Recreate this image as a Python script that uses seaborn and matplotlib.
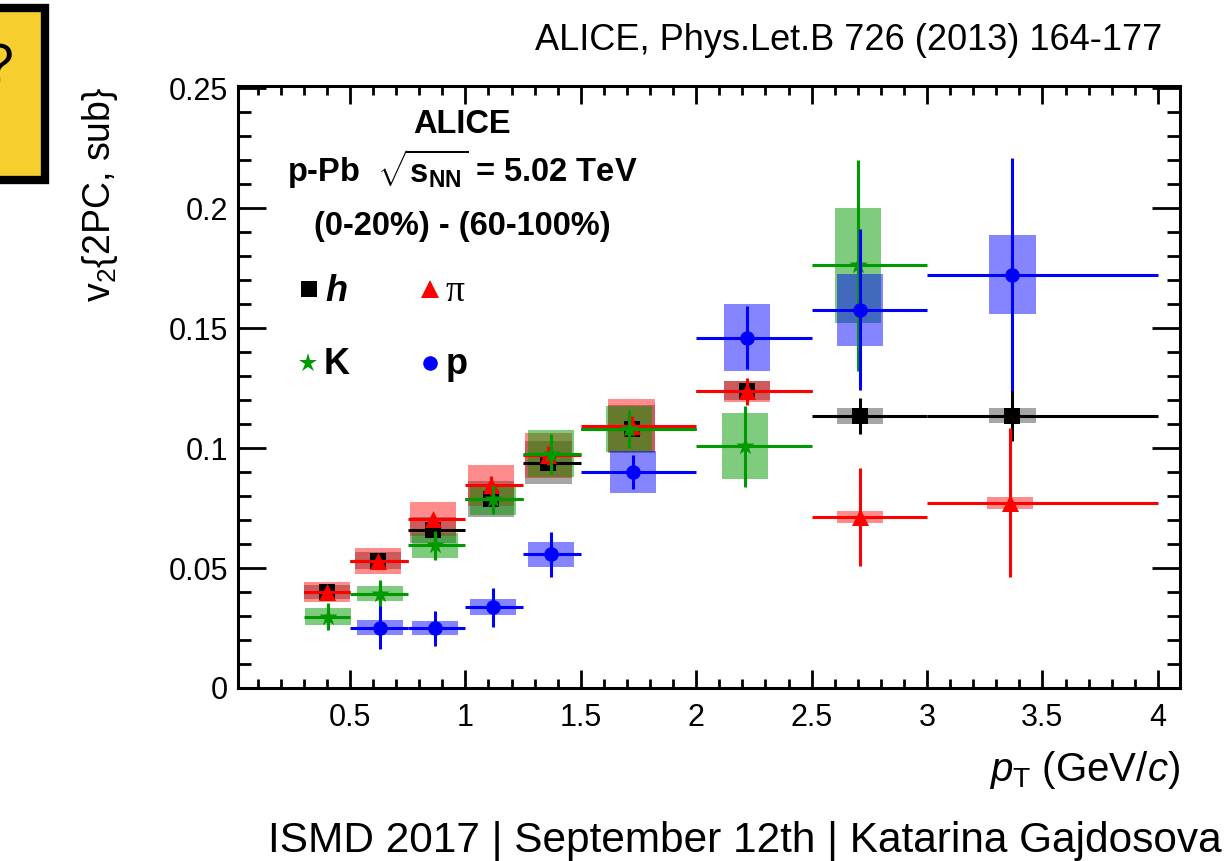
import numpy as np
import pandas as pd
import matplotlib
matplotlib.use("Agg")
import matplotlib.pyplot as plt
from matplotlib.patches import Rectangle
import seaborn as sns

# ---------------- data ----------------
bin_lo = [0.3, 0.5, 0.75, 1.0, 1.25, 1.5, 2.0, 2.5, 3.0]
bin_hi = [0.5, 0.75, 1.0, 1.25, 1.5, 2.0, 2.5, 3.0, 4.0]

# unidentified hadrons h
h_bins = [0, 1, 2, 3, 4, 5, 6, 7, 8]
h_x    = [0.40, 0.62, 0.86, 1.11, 1.36, 1.72, 2.22, 2.71, 3.37]
h_v2   = [0.040, 0.053, 0.066, 0.079, 0.094, 0.108, 0.124, 0.1135, 0.1136]
h_stat = [0.0008, 0.0008, 0.001, 0.001, 0.0012, 0.0015, 0.002, 0.0075, 0.0105]
h_sys  = [0.003, 0.0035, 0.0055, 0.0075, 0.009, 0.010, 0.004, 0.0033, 0.0033]

# pions
pi_bins = [0, 1, 2, 3, 4, 5, 6, 7, 8]
pi_x    = [0.40, 0.62, 0.86, 1.11, 1.36, 1.72, 2.22, 2.71, 3.36]
pi_v2   = [0.040, 0.053, 0.0705, 0.0845, 0.097, 0.1094, 0.1237, 0.0713, 0.0772]
pi_stat = [0.001, 0.0012, 0.0015, 0.004, 0.004, 0.004, 0.0055, 0.0203, 0.031]
pi_sys  = [0.0042, 0.0054, 0.0072, 0.0085, 0.0094, 0.011, 0.0044, 0.0025, 0.0025]

# kaons
K_bins = [0, 1, 2, 3, 4, 5, 6, 7]
K_x    = [0.405, 0.63, 0.87, 1.12, 1.37, 1.71, 2.21, 2.70]
K_v2   = [0.0297, 0.0394, 0.0595, 0.0786, 0.0976, 0.108, 0.1008, 0.1763]
K_stat = [0.0057, 0.0058, 0.006, 0.006, 0.0085, 0.0078, 0.0168, 0.044]
K_sys  = [0.0036, 0.0033, 0.0052, 0.0064, 0.0098, 0.0094, 0.0137, 0.024]

# protons
p_bins = [1, 2, 3, 4, 5, 6, 7, 8]
p_x    = [0.63, 0.87, 1.12, 1.37, 1.727, 2.22, 2.71, 3.37]
p_v2   = [0.0252, 0.025, 0.0336, 0.0557, 0.090, 0.1461, 0.1577, 0.1724]
p_stat = [0.009, 0.0073, 0.0082, 0.0095, 0.0071, 0.013, 0.0335, 0.0487]
p_sys  = [0.0033, 0.0028, 0.0033, 0.0053, 0.0087, 0.0139, 0.015, 0.0166]

species_names = ["h", "pi", "K", "p"]
x_ticks = [0.5, 1, 1.5, 2, 2.5, 3, 3.5, 4]
x_tick_labels = ["0.5", "1", "1.5", "2", "2.5", "3", "3.5", "4"]
y_ticks = [0, 0.05, 0.1, 0.15, 0.2, 0.25]
y_tick_labels = ["0", "0.05", "0.1", "0.15", "0.2", "0.25"]

# ---------------- style ----------------
sns.set_theme(style="ticks")
plt.rcParams["font.family"] = ["Liberation Sans", "DejaVu Sans"]
plt.rcParams["mathtext.fontset"] = "custom"
plt.rcParams["mathtext.rm"] = "Liberation Sans"
plt.rcParams["mathtext.it"] = "Liberation Sans:italic"
plt.rcParams["mathtext.bf"] = "Liberation Sans:bold"
plt.rcParams["text.color"] = "black"
plt.rcParams["axes.labelcolor"] = "black"
plt.rcParams["xtick.color"] = "black"
plt.rcParams["ytick.color"] = "black"
plt.rcParams["axes.edgecolor"] = "black"

colors = {"h": "#000000", "pi": "#ff0000", "K": "#009a00", "p": "#0000ff"}
markers = {"h": "s", "pi": "^", "K": "*", "p": "o"}
msize = {"h": 125, "pi": 150, "K": 190, "p": 110}
box_alpha = {"h": 0.35, "pi": 0.45, "K": 0.5, "p": 0.48}

frames = []
for name, b, x, v, st, sy in [
    ("h", h_bins, h_x, h_v2, h_stat, h_sys),
    ("pi", pi_bins, pi_x, pi_v2, pi_stat, pi_sys),
    ("K", K_bins, K_x, K_v2, K_stat, K_sys),
    ("p", p_bins, p_x, p_v2, p_stat, p_sys),
]:
    frames.append(pd.DataFrame({
        "species": name,
        "pt": x,
        "v2": v,
        "stat": st,
        "sys": sy,
        "lo": [bin_lo[i] for i in b],
        "hi": [bin_hi[i] for i in b],
    }))
df = pd.concat(frames, ignore_index=True)

fig = plt.figure(figsize=(12.31, 8.61), dpi=100)
ax = fig.add_axes([0.19334, 0.20093, 0.76523, 0.69919])

BOX_HALF = 0.1
# systematic boxes first
for k, name in enumerate(species_names):
    sub = df[df.species == name]
    for _, r in sub.iterrows():
        ax.add_patch(Rectangle((r.pt - BOX_HALF, r.v2 - r.sys), 2 * BOX_HALF, 2 * r.sys,
                               facecolor=colors[name], edgecolor="none",
                               alpha=box_alpha[name], zorder=1 + k))

# statistical errors + markers
for k, name in enumerate(species_names):
    sub = df[df.species == name]
    ax.errorbar(sub.pt, sub.v2, yerr=sub.stat,
                xerr=[sub.pt - sub.lo, sub.hi - sub.pt],
                fmt="none", ecolor=colors[name], elinewidth=2.2, capsize=0,
                zorder=10 + 2 * k)
    sns.scatterplot(data=sub, x="pt", y="v2", marker=markers[name],
                    color=colors[name], s=msize[name], linewidth=0,
                    zorder=11 + 2 * k, ax=ax, legend=False)

ax.set_xlim(0.015, 4.096)
ax.set_ylim(0, 0.251)
ax.set_xticks(x_ticks)
ax.set_xticklabels(x_tick_labels)
ax.set_yticks(y_ticks)
ax.set_yticklabels(y_tick_labels)
ax.xaxis.set_minor_locator(matplotlib.ticker.MultipleLocator(0.1))
ax.yaxis.set_minor_locator(matplotlib.ticker.MultipleLocator(0.01))
ax.tick_params(axis="both", which="both", direction="in", top=True, right=True,
               width=2.0, colors="black", labelsize=22)
ax.tick_params(axis="x", which="major", length=13, pad=11)
ax.tick_params(axis="x", which="minor", length=6.5)
ax.tick_params(axis="y", which="major", length=20, pad=7)
ax.tick_params(axis="y", which="minor", length=9.5)
for s in ax.spines.values():
    s.set_linewidth(2.2)
    s.set_color("black")
ax.set_xlabel("")
ax.set_ylabel("")
ax.grid(False)

# axis titles
fig.text(100 / 1231, 1 - 87 / 861, r"v$_{2}${2PC, sub}", rotation=90,
         ha="center", va="top", fontsize=27)
fig.text(1180 / 1231, 1 - 781 / 861, r"$p_{\mathrm{T}}$ (GeV/$c$)",
         ha="right", va="baseline", fontsize=29)

# in-plot labels
ax.text(0.2378, 0.922, "ALICE", transform=ax.transAxes, ha="center",
        va="baseline", fontsize=23.5, fontweight="bold")
ax.text(0.2378, 0.8405, r"p-Pb  $\sqrt{\mathbf{s}_{\mathbf{NN}}}$ = 5.02 TeV",
        transform=ax.transAxes, ha="center", va="baseline", fontsize=23.5,
        fontweight="bold")
ax.text(0.2378, 0.7525, "(0-20%) - (60-100%)", transform=ax.transAxes,
        ha="center", va="baseline", fontsize=23.5, fontweight="bold")

# legend keys
leg_items = [
    ("h", 0.0754, 0.662, "h", dict(fontweight="bold", fontstyle="italic", fontsize=26)),
    ("pi", 0.2038, 0.662, "π", dict(family=["Liberation Serif", "DejaVu Serif"], fontsize=27)),
    ("K", 0.0743, 0.540, "K", dict(fontweight="bold", fontsize=26)),
    ("p", 0.2038, 0.540, "p", dict(fontweight="bold", fontsize=26)),
]
for name, lx, ly, lab, kw in leg_items:
    ax.plot([lx], [ly], marker=markers[name], color=colors[name],
            ms=np.sqrt(msize[name]), linestyle="none", transform=ax.transAxes,
            clip_on=False, zorder=30, markeredgewidth=0)
    ax.text(lx + 0.017, ly - 0.019, lab, transform=ax.transAxes, ha="left",
            va="baseline", zorder=30, **kw)

# slide decorations
fig.text(1162 / 1231, 1 - 50 / 861, "ALICE, Phys.Let.B 726 (2013) 164-177",
         ha="right", va="baseline", fontsize=26)
fig.text(1222 / 1231, 1 - 852 / 861, "ISMD 2017 | September 12th | Katarina Gajdosova",
         ha="right", va="baseline", fontsize=30.5)
fig.patches.append(Rectangle((-30 / 1231, 1 - 180 / 861), 75 / 1231, 172 / 861,
                             transform=fig.transFigure, facecolor="#f6cf2e",
                             edgecolor="black", linewidth=6, zorder=0))
fig.text(13 / 1231, 1 - 82 / 861, "?", ha="right", va="baseline", fontsize=40)

fig.savefig("out.png", dpi=100)
